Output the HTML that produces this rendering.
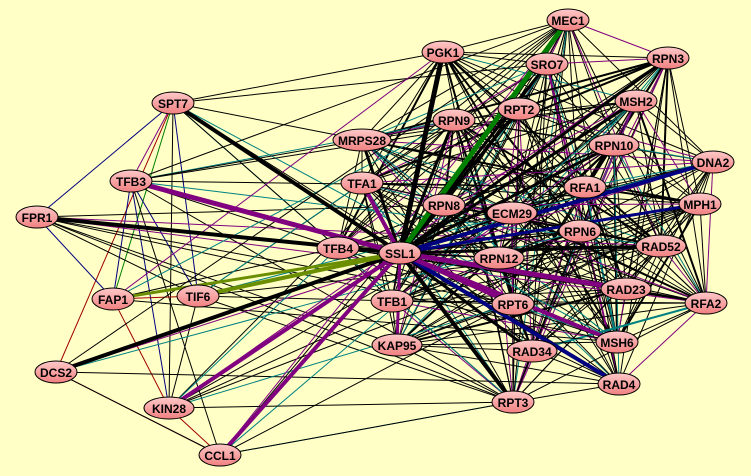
<!DOCTYPE html>
<html><head><meta charset="utf-8"><style>
html,body{margin:0;padding:0;background:#ffffc6;}
svg{display:block}
text{font-family:"Liberation Sans",sans-serif;font-weight:bold;font-size:12px;text-anchor:middle;dominant-baseline:central;fill:#000}
</style></head><body>
<svg id="s" width="751" height="476" xmlns="http://www.w3.org/2000/svg">
<defs><linearGradient id="g" x1="0" y1="0" x2="0" y2="1"><stop offset="0" stop-color="#ffc8c8"/><stop offset="1" stop-color="#f08080"/></linearGradient></defs>
<rect width="751" height="476" fill="#ffffc6"/>
<g id="e"></g><g id="n"></g>
</svg>
<script>
var N={MEC1:[568,20],PGK1:[443,52],SRO7:[547,64],RPN3:[668,58],SPT7:[173,103],RPT2:[519,109],MSH2:[636,101],RPN9:[454,120],MRPS28:[362,140],RPN10:[614,145],DNA2:[713,162],TFB3:[131,181],TFA1:[362,183],RFA1:[585,187],MPH1:[700,204],FPR1:[37,217],RPN8:[444,205],ECM29:[512,213],RPN6:[580,231],TFB4:[338,248],SSL1:[400,253],RAD52:[661,246],RPN12:[499,258],FAP1:[113,299],TIF6:[198,296],TFB1:[392,301],RAD23:[626,289],RFA2:[706,303],RPT6:[513,304],KAP95:[397,345],MSH6:[617,342],RAD34:[532,351],DCS2:[56,372],RAD4:[619,384],RPT3:[513,402],KIN28:[169,408],CCL1:[220,455]};
var E=document.getElementById('e'),G=document.getElementById('n'),ns='http://www.w3.org/2000/svg';
function L(a,b,c,w){var p=N[a],q=N[b];var l=document.createElementNS(ns,'line');l.setAttribute('x1',p[0]);l.setAttribute('y1',p[1]);l.setAttribute('x2',q[0]);l.setAttribute('y2',q[1]);l.setAttribute('stroke',c);l.setAttribute('stroke-width',w);E.appendChild(l);}
var seed=7;function r(){seed=(seed*16807)%2147483647;return seed/2147483647;}
var R=['MEC1','PGK1','SRO7','RPN3','RPT2','MSH2','RPN9','MRPS28','RPN10','DNA2','TFA1','RFA1','MPH1','RPN8','ECM29','RPN6','RAD52','RPN12','TFB1','RAD23','RFA2','RPT6','KAP95','MSH6','RAD34','RAD4','RPT3','TFB4'];
var cols=['#000','#000','#000','#000','#000','#000','#800080','#008080','#000'];
for(var i=0;i<R.length;i++)for(var j=i+1;j<R.length;j++){if(r()<0.8)L(R[i],R[j],cols[Math.floor(r()*cols.length)],r()<0.1?2:1);}
var Lf=['SPT7','TFB3','FPR1','FAP1','TIF6','DCS2','KIN28','CCL1'];
for(var i=0;i<Lf.length;i++){for(var j=i+1;j<Lf.length;j++)if(r()<0.75)L(Lf[i],Lf[j],['#000','#000','#008000','#800080','#000080','#a00000'][Math.floor(r()*6)],1);
 for(var k=0;k<R.length;k++)if(r()<0.22)L(Lf[i],R[k],['#000','#000','#000','#800080','#008080'][Math.floor(r()*5)],1);}
L('SPT7','PGK1','#000',1);L('FPR1','SPT7','#000080',1);L('DCS2','CCL1','#000',1);L('CCL1','RPT3','#000',1);L('KIN28','RPT3','#000',1);
for(var k in N)if(k!='SSL1')L('SSL1',k,'#000',1.5);
[['SPT7',4],['FPR1',4],['DCS2',4],['PGK1',5],['RPT3',4],['RAD52',3],['RPN3',3],['MSH2',3],['RPN9',3],['RPT2',3],['MRPS28',3],['RPN10',3],['TFA1',2],['RPN8',3],['RAD34',3],['SRO7',3]].forEach(function(x){L('SSL1',x[0],'#000',x[1]);});
[['TFB3','#800080',5],['KIN28','#800080',4],['CCL1','#800080',4],['TIF6','#6b8e00',4],['FAP1','#6b8e00',3],['MEC1','#008000',5],['DNA2','#000080',4],['MPH1','#000080',3],['RAD4','#000080',4],['RAD23','#800080',5],['MSH6','#800080',4],['RPT6','#800080',4],['KAP95','#800080',3],['TFA1','#800080',4]].forEach(function(x){L('SSL1',x[0],x[1],x[2]);});
for(var k in N){var p=N[k],w=k.length*8+10;var e=document.createElementNS(ns,'ellipse');e.setAttribute('cx',p[0]);e.setAttribute('cy',p[1]);e.setAttribute('rx',w/2);e.setAttribute('ry',11);e.setAttribute('fill','url(#g)');e.setAttribute('stroke','#000');G.appendChild(e);
var t=document.createElementNS(ns,'text');t.setAttribute('x',p[0]);t.setAttribute('y',p[1]+1);t.textContent=k;G.appendChild(t);}
</script>
</body></html>
